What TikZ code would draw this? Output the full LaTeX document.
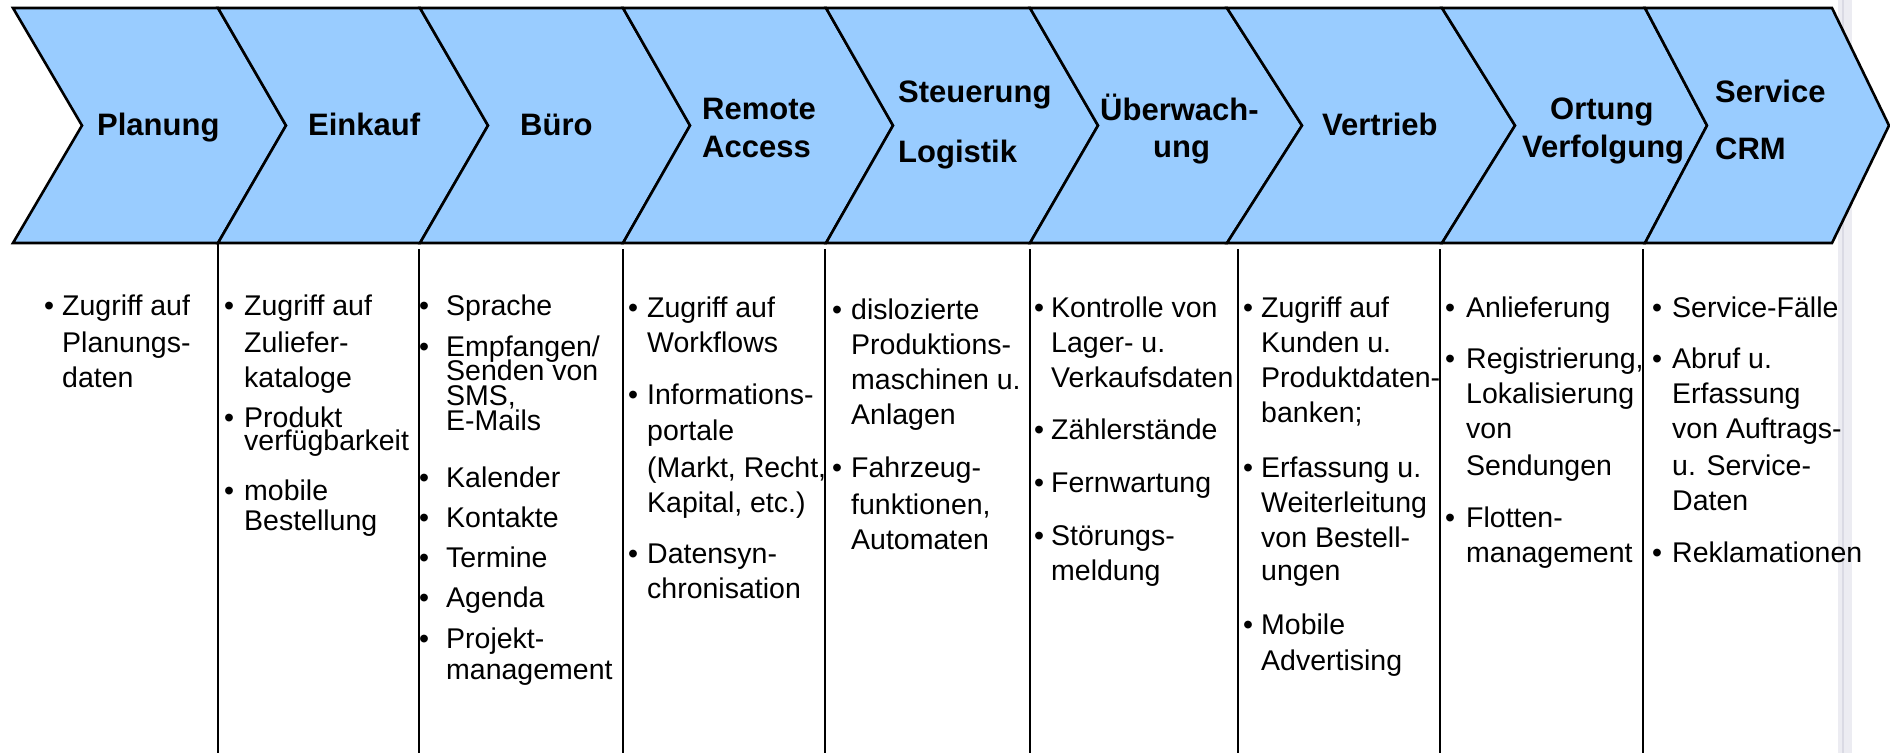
\documentclass[tikz,border=0pt]{standalone}
\usepackage{fontspec}
\setmainfont{Liberation Sans}
\definecolor{chev}{RGB}{153,204,255}
\definecolor{stripbg}{RGB}{236,236,242}
\definecolor{stripln}{RGB}{218,218,228}
\newcommand\Chev[4]{\draw[chevron] (#1,8) -- (#3,8) -- (#4,125.5) -- (#3,243) -- (#1,243) -- (#2,125.5) -- cycle;}
\newcommand\Tx[4]{\node[txt] (#1) at (#2,#3) {#4};}
\newcommand\Bu[3]{\node[bul] (#1) at (#2,#3) {\textbullet};}
\newcommand\Lb[4]{\node[lbl] (#1) at (#2,#3) {#4};}
\begin{document}
\begin{tikzpicture}[x=1pt,y=-1pt,
  chevron/.style={fill=chev,draw=black,line width=2.6pt,line join=miter},
  colline/.style={draw=black,line width=2.2pt},
  lbl/.style={anchor=base west,inner sep=0pt,font=\fontsize{31}{31}\selectfont\bfseries},
  txt/.style={anchor=base west,inner sep=0pt,font=\fontsize{28.5}{28.5}\selectfont},
  bul/.style={anchor=base,inner sep=0pt,font=\fontsize{28.5}{28.5}\selectfont}]
\useasboundingbox (0,0) rectangle (1890,753);
% right grey strip
\fill[stripbg] (1838,0) rectangle (1852,753);
\draw[stripln,line width=2pt] (1843,0) -- (1843,753);
% chevrons
\Chev{13}{82}{218}{286}
\Chev{218}{286}{420}{488}
\Chev{420}{488}{623}{690}
\Chev{623}{690}{826}{893}
\Chev{826}{893}{1030}{1098}
\Chev{1030}{1098}{1227}{1302}
\Chev{1227}{1302}{1442}{1515}
\Chev{1442}{1515}{1645}{1707}
\Chev{1645}{1707}{1832}{1889}
% column separators
\draw[colline] (218,243) -- (218,753);
\foreach \x in {419,623,825,1030,1238,1440,1643} \draw[colline] (\x,249) -- (\x,753);
% chevron labels
\Lb{l1}{97}{135}{Planung}
\Lb{l2}{308}{135}{Einkauf}
\Lb{l3}{520}{135}{Büro}
\Lb{l4a}{702}{119}{Remote}
\Lb{l4b}{702}{157}{Access}
\Lb{l5a}{898}{102}{Steuerung}
\Lb{l5b}{898}{162}{Logistik}
\Lb{l6a}{1100}{120}{Überwach-}
\Lb{l6b}{1153}{157}{ung}
\Lb{l7}{1322}{135}{Vertrieb}
\Lb{l8a}{1550}{119}{Ortung}
\Lb{l8b}{1522}{157}{Verfolgung}
\Lb{l9a}{1715}{102}{Service}
\Lb{l9b}{1715}{159}{CRM}
% column 1
\Bu{b1a}{49}{315}
\Tx{t1a}{62}{315}{Zugriff auf}
\Tx{t1b}{62}{352}{Planungs-}
\Tx{t1c}{62}{387}{daten}
% column 2
\Bu{b2a}{229}{315}
\Tx{t2a}{244}{315}{Zugriff auf}
\Tx{t2b}{244}{352}{Zuliefer-}
\Tx{t2c}{244}{387}{kataloge}
\Bu{b2d}{229}{427}
\Tx{t2d}{244}{427}{Produkt}
\Tx{t2e}{244}{450}{verfügbarkeit}
\Bu{b2f}{229}{500}
\Tx{t2f}{244}{500}{mobile}
\Tx{t2g}{244}{530}{Bestellung}
% column 3
\Bu{b3a}{424}{315}
\Tx{t3a}{446}{315}{Sprache}
\Bu{b3b}{424}{356}
\Tx{t3b}{446}{356}{Empfangen/}
\Tx{t3c}{446}{380}{Senden von}
\Tx{t3d}{446}{405}{SMS,}
\Tx{t3e}{446}{430}{E-Mails}
\Bu{b3f}{424}{487}
\Tx{t3f}{446}{487}{Kalender}
\Bu{b3g}{424}{527}
\Tx{t3g}{446}{527}{Kontakte}
\Bu{b3h}{424}{567}
\Tx{t3h}{446}{567}{Termine}
\Bu{b3i}{424}{607}
\Tx{t3i}{446}{607}{Agenda}
\Bu{b3j}{424}{648}
\Tx{t3j}{446}{648}{Projekt-}
\Tx{t3k}{446}{679}{management}
% column 4
\Bu{b4a}{633}{317}
\Tx{t4a}{647}{317}{Zugriff auf}
\Tx{t4b}{647}{352}{Workflows}
\Bu{b4c}{633}{404}
\Tx{t4c}{647}{404}{Informations-}
\Tx{t4d}{647}{440}{portale}
\Tx{t4e}{647}{477}{(Markt, Recht,}
\Tx{t4f}{647}{512}{Kapital, etc.)}
\Bu{b4g}{633}{563}
\Tx{t4g}{647}{563}{Datensyn-}
\Tx{t4h}{647}{598}{chronisation}
% column 5
\Bu{b5a}{837}{319}
\Tx{t5a}{851}{319}{dislozierte}
\Tx{t5b}{851}{354}{Produktions-}
\Tx{t5c}{851}{389}{maschinen u.}
\Tx{t5d}{851}{424}{Anlagen}
\Bu{b5e}{837}{477}
\Tx{t5e}{851}{477}{Fahrzeug-}
\Tx{t5f}{851}{514}{funktionen,}
\Tx{t5g}{851}{549}{Automaten}
% column 6
\Bu{b6a}{1039}{317}
\Tx{t6a}{1051}{317}{Kontrolle von}
\Tx{t6b}{1051}{352}{Lager- u.}
\Tx{t6c}{1051}{387}{Verkaufsdaten}
\Bu{b6d}{1039}{439}
\Tx{t6d}{1051}{439}{Zählerstände}
\Bu{b6e}{1039}{492}
\Tx{t6e}{1051}{492}{Fernwartung}
\Bu{b6f}{1039}{545}
\Tx{t6f}{1051}{545}{Störungs-}
\Tx{t6g}{1051}{580}{meldung}
% column 7
\Bu{b7a}{1248}{317}
\Tx{t7a}{1261}{317}{Zugriff auf}
\Tx{t7b}{1261}{352}{Kunden u.}
\Tx{t7c}{1261}{387}{Produktdaten-}
\Tx{t7d}{1261}{422}{banken;}
\Bu{b7e}{1248}{477}
\Tx{t7e}{1261}{477}{Erfassung u.}
\Tx{t7f}{1261}{512}{Weiterleitung}
\Tx{t7g}{1261}{547}{von Bestell-}
\Tx{t7h}{1261}{580}{ungen}
\Bu{b7i}{1248}{634}
\Tx{t7i}{1261}{634}{Mobile}
\Tx{t7j}{1261}{670}{Advertising}
% column 8
\Bu{b8a}{1450}{317}
\Tx{t8a}{1466}{317}{Anlieferung}
\Bu{b8b}{1450}{368}
\Tx{t8b}{1466}{368}{Registrierung,}
\Tx{t8c}{1466}{403}{Lokalisierung}
\Tx{t8d}{1466}{438}{von}
\Tx{t8e}{1466}{475}{Sendungen}
\Bu{b8f}{1450}{527}
\Tx{t8f}{1466}{527}{Flotten-}
\Tx{t8g}{1466}{562}{management}
% column 9
\Bu{b9a}{1657}{317}
\Tx{t9a}{1672}{317}{Service-Fälle}
\Bu{b9b}{1657}{368}
\Tx{t9b}{1672}{368}{Abruf u.}
\Tx{t9c}{1672}{403}{Erfassung}
\Tx{t9d}{1672}{438}{von Auftrags-}
\Tx{t9e}{1672}{475}{u. Service-}
\Tx{t9f}{1672}{510}{Daten}
\Bu{b9g}{1657}{562}
\Tx{t9g}{1672}{562}{Reklamationen}
\end{tikzpicture}
\end{document}
